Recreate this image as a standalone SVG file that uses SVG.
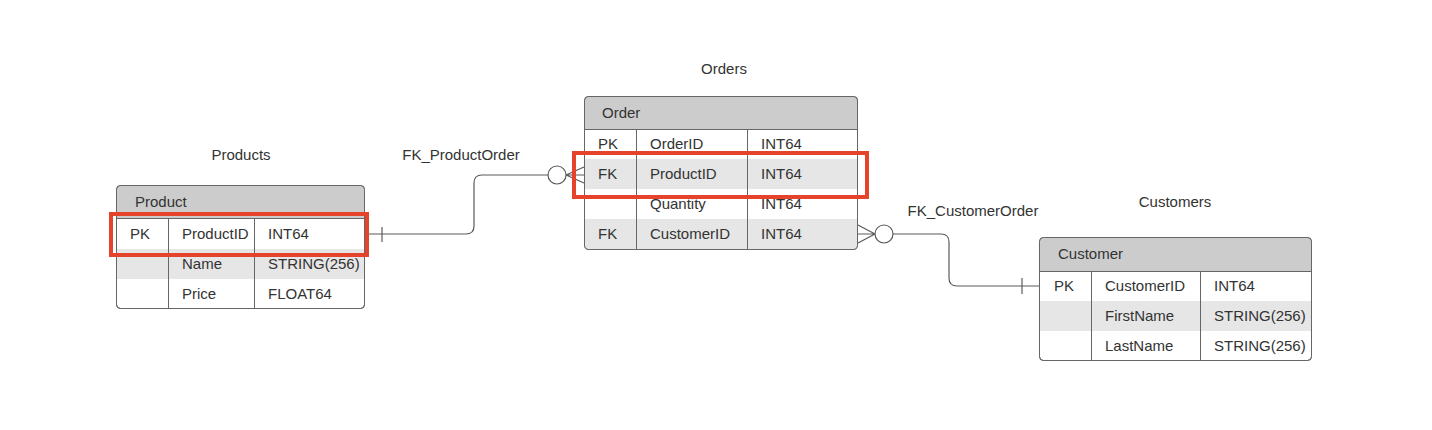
<svg xmlns="http://www.w3.org/2000/svg" width="1432" height="430" viewBox="0 0 1432 430">
<style>
text{font-family:"Liberation Sans",Arial,sans-serif;font-size:15px;fill:#333}
.box{fill:#fff;stroke:#666;stroke-width:1}
.hdr{fill:#ccc}
.shade{fill:#e6e6e6}
.ln{stroke:#666;stroke-width:1;fill:none}
.conn{stroke:#5a5a5a;stroke-width:1.2;fill:none}
.hl{fill:none;stroke:#e5432b;stroke-width:4}
.c{fill:#fff;stroke:#5a5a5a;stroke-width:1.2}
</style>
<text x="241" y="160" text-anchor="middle">Products</text>
<text x="724" y="74" text-anchor="middle">Orders</text>
<text x="1175" y="207" text-anchor="middle">Customers</text>
<text x="461" y="160" text-anchor="middle">FK_ProductOrder</text>
<text x="973" y="216" text-anchor="middle">FK_CustomerOrder</text>

<g id="connectors">
<path class="conn" d="M365,234 H466 Q474,234 474,226 V183 Q474,175 482,175 H548"/>
<path class="conn" d="M382,227 V242"/>
<circle class="c" cx="557" cy="175" r="9"/>
<path class="conn" d="M566,175 L584,167 M566,175 H584 M566,175 L584,183"/>
<path class="conn" d="M893,234 H941 Q949,234 949,242 V278 Q949,286 957,286 H1039"/>
<path class="conn" d="M1022,278 V294"/>
<circle class="c" cx="884" cy="234" r="9"/>
<path class="conn" d="M875,234 L858,225 M875,234 H858 M875,234 L858,243"/>
</g>

<g id="product">
<rect class="box" x="116.5" y="185.5" width="248" height="123" rx="4"/>
<path class="hdr" d="M120.5,186 H360.5 Q364,186 364,189.5 V218.5 H117 V189.5 Q117,186 120.5,186 Z"/>
<rect class="shade" x="117" y="249" width="247" height="30"/>
<path class="ln" d="M116.5,218.5 H364.5 M168.5,218.5 V308.5 M254.5,218.5 V308.5"/>
<rect class="box" x="116.5" y="185.5" width="248" height="123" rx="4" style="fill:none"/>
<text x="135" y="207">Product</text>
<text x="130" y="239">PK</text><text x="182" y="239">ProductID</text><text x="268" y="239">INT64</text>
<text x="182" y="269">Name</text><text x="268" y="269">STRING(256)</text>
<text x="182" y="299">Price</text><text x="268" y="299">FLOAT64</text>
</g>

<g id="order">
<rect class="box" x="584.5" y="96.5" width="273" height="153" rx="4"/>
<path class="hdr" d="M588.5,97 H853.5 Q857,97 857,100.5 V129.5 H585 V100.5 Q585,97 588.5,97 Z"/>
<rect class="shade" x="585" y="159" width="272" height="30"/>
<rect class="shade" x="585" y="219" width="272" height="30"/>
<path class="ln" d="M584.5,129.5 H857.5 M636.5,129.5 V249.5 M747.5,129.5 V249.5"/>
<rect class="box" x="584.5" y="96.5" width="273" height="153" rx="4" style="fill:none"/>
<text x="602" y="118">Order</text>
<text x="598" y="149">PK</text><text x="650" y="149">OrderID</text><text x="761" y="149">INT64</text>
<text x="598" y="179">FK</text><text x="650" y="179">ProductID</text><text x="761" y="179">INT64</text>
<text x="650" y="209">Quantity</text><text x="761" y="209">INT64</text>
<text x="598" y="239">FK</text><text x="650" y="239">CustomerID</text><text x="761" y="239">INT64</text>
</g>

<g id="customer">
<rect class="box" x="1039.5" y="237.5" width="272" height="123" rx="4"/>
<path class="hdr" d="M1043.5,238 H1307.5 Q1311,238 1311,241.5 V271.5 H1040 V241.5 Q1040,238 1043.5,238 Z"/>
<rect class="shade" x="1040" y="301" width="271" height="30"/>
<path class="ln" d="M1039.5,271.5 H1311.5 M1091.5,271.5 V360.5 M1200.5,271.5 V360.5"/>
<rect class="box" x="1039.5" y="237.5" width="272" height="123" rx="4" style="fill:none"/>
<text x="1058" y="259">Customer</text>
<text x="1054" y="291">PK</text><text x="1105" y="291">CustomerID</text><text x="1214" y="291">INT64</text>
<text x="1105" y="321">FirstName</text><text x="1214" y="321">STRING(256)</text>
<text x="1105" y="351">LastName</text><text x="1214" y="351">STRING(256)</text>
</g>

<g id="highlights">
<rect class="hl" x="111" y="214" width="256" height="41"/>
<rect class="hl" x="574" y="153" width="293" height="44"/>
</g>
</svg>
